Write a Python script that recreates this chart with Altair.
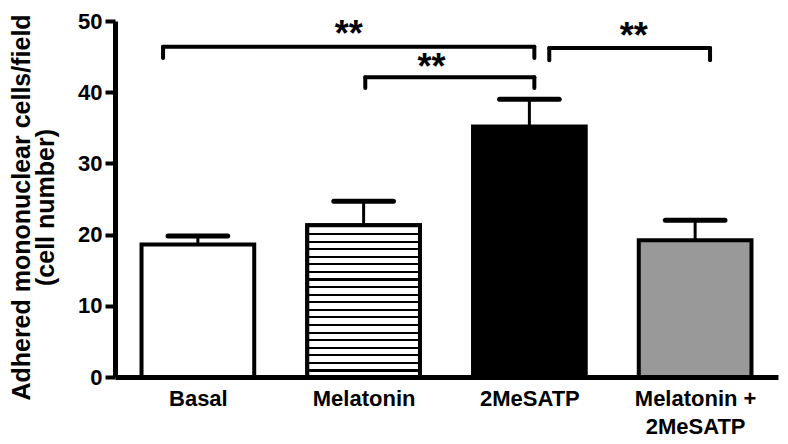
import json
import altair as alt
import pandas as pd

# ---- data ----
categories = ["Basal", "Melatonin", "2MeSATP", "Melatonin +\n2MeSATP"]
positions = [1, 2, 3, 4]
means = [18.6, 21.3, 35.2, 19.2]
upper = [19.8, 24.7, 39.0, 22.0]
fills = ["white", "white", "black", "#999999"]
hatched = [False, True, False, False]

bracket_start = [0.79, 2.01, 3.12]
bracket_end = [3.03, 3.03, 4.09]
bracket_level = [46.4, 42.1, 46.2]
bracket_drop = [44.8, 40.6, 44.5]
star_pos = [1.91, 2.41, 3.63]
star_level = [48.4, 43.8, 48.2]
star_text = ["**", "**", "**"]

y_ticks = [0, 10, 20, 30, 40, 50]
y_title = ["Adhered mononuclear cells/field", "(cell number)"]

HALF_BAR = 0.34
HALF_CAP = 0.18

bars = pd.DataFrame({
    "pos": positions, "cat": categories, "mean": means, "upper": upper,
    "fill": fills, "hatched": hatched,
})
bars["x1"] = bars["pos"] - HALF_BAR
bars["x2"] = bars["pos"] + HALF_BAR
bars["c1"] = bars["pos"] - HALF_CAP
bars["c2"] = bars["pos"] + HALF_CAP
bars["zero"] = 0

brk = pd.DataFrame({"xs": bracket_start, "xe": bracket_end,
                    "lvl": bracket_level, "drop": bracket_drop})
legs = pd.DataFrame({"x": bracket_start + bracket_end,
                     "lvl": bracket_level + bracket_level,
                     "drop": bracket_drop + bracket_drop})
stars = pd.DataFrame({"x": star_pos, "y": star_level, "t": star_text})

label_list = [c.split("\n") if "\n" in c else c for c in categories]
label_expr = json.dumps(label_list) + "[round(datum.value) - 1]"

FONT = "Liberation Sans"

x_scale = alt.Scale(domain=[0.5, 4.5], nice=False, zero=False)
y_scale = alt.Scale(domain=[0, 50], nice=False)

x_axis = alt.Axis(values=positions, labelExpr=label_expr, ticks=False, grid=False,
                  domainWidth=5, domainColor="black", labelFont=FONT,
                  labelFontSize=22, labelFontWeight="bold", labelColor="black",
                  labelPadding=11, labelLineHeight=28, labelAngle=0)
y_axis = alt.Axis(values=y_ticks, grid=False, domainWidth=5, domainColor="black",
                  tickWidth=4, tickSize=10, tickColor="black", labelFont=FONT,
                  labelFontSize=22, labelFontWeight="bold", labelColor="black",
                  labelPadding=3, title=y_title, titleFont=FONT, titleFontSize=25,
                  titleFontWeight="bold", titleColor="black", titleLineHeight=24,
                  titlePadding=19, titleY=186)


def X(field):
    return alt.X(field, type="quantitative", scale=x_scale, axis=x_axis, title=None)


def Y(field):
    return alt.Y(field, type="quantitative", scale=y_scale, axis=y_axis, title=y_title)


n_stripes = 20
stops = []
for i in range(n_stripes):
    a = i / n_stripes
    b = a + 0.28 / n_stripes
    stops += [alt.GradientStop(offset=a, color="black"),
              alt.GradientStop(offset=b, color="black"),
              alt.GradientStop(offset=b, color="white"),
              alt.GradientStop(offset=(i + 1) / n_stripes, color="white")]
hatch = alt.Gradient(gradient="linear", stops=stops, x1=0, x2=0, y1=0, y2=1)

base = alt.Chart(bars)

stems = base.mark_rule(color="black", strokeWidth=3).encode(
    x=X("pos"), y=Y("mean"), y2="upper")
caps = base.mark_rule(color="black", strokeWidth=5, strokeCap="round").encode(
    x=X("c1"), x2="c2", y=Y("upper"))
bar_layer = base.mark_bar(stroke="black", strokeWidth=4, strokeJoin="miter").encode(
    x=X("x1"), x2="x2", y=Y("mean"), y2="zero",
    fill=alt.Fill("fill:N", scale=None))
hatch_layer = base.transform_filter("datum.hatched").mark_bar(
    fill=hatch, stroke="black", strokeWidth=4, strokeJoin="miter").encode(
    x=X("x1"), x2="x2", y=Y("mean"), y2="zero")

hlines = alt.Chart(brk).mark_rule(color="black", strokeWidth=4, strokeCap="round").encode(
    x=X("xs"), x2="xe", y=Y("lvl"))
vlines = alt.Chart(legs).mark_rule(color="black", strokeWidth=4, strokeCap="round").encode(
    x=X("x"), y=Y("lvl"), y2="drop")
star_layer = alt.Chart(stars).mark_text(font=FONT, fontSize=36, fontWeight="bold",
                                        color="black", baseline="alphabetic", dy=14).encode(
    x=X("x"), y=Y("y"), text="t:N")

chart = alt.layer(stems, caps, bar_layer, hatch_layer, hlines, vlines, star_layer).properties(
    width=663, height=356,
    autosize=alt.AutoSizeParams(type="none"),
    padding={"left": 107, "top": 13, "right": 2, "bottom": 66},
).configure_view(stroke=None)

chart.save("out.html", embed_options={"renderer": "svg", "actions": False})
